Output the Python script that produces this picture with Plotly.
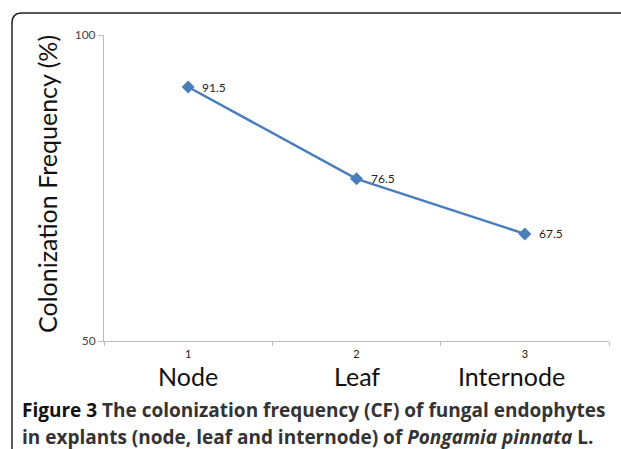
import plotly.graph_objects as go

categories = ["Node", "Leaf", "Internode"]
positions = [1, 2, 3]
cf_values = [91.5, 76.5, 67.5]
y_ticks = [50, 100]
y_title = "Colonization Frequency (%)"

W, H = 621, 449
px = lambda v: v / W
py = lambda v: 1 - v / H

fig = go.Figure()
fig.add_trace(go.Scatter(
    x=positions, y=cf_values, mode="lines+markers",
    line=dict(color="#4A7EBB", width=2.5),
    marker=dict(symbol="diamond", size=10, color="#4A7EBB"),
    cliponaxis=False, showlegend=False,
))

for p, v in zip(positions, cf_values):
    fig.add_annotation(x=p, y=v, xref="x", yref="y", text=f"{v}", showarrow=False,
                       xanchor="left", yanchor="middle", xshift=12,
                       font=dict(family="Lato", size=12, color="#222"))

fig.update_layout(
    width=W, height=H, margin=dict(l=0, r=0, t=0, b=0, autoexpand=False),
    paper_bgcolor="white", plot_bgcolor="white",
    xaxis=dict(domain=[px(104), px(609)], range=[0.5, 3.5], automargin=False,
               tickvals=positions, ticktext=[str(p) for p in positions],
               ticks="", showline=True, linecolor="#BBBBBB", linewidth=1,
               showgrid=False, zeroline=False, ticklabelstandoff=3,
               tickfont=dict(family="Lato", size=11, color="#222"),
               minor=dict(tickmode="array", tickvals=[0.5, 1.5, 2.5, 3.5],
                          ticks="outside", ticklen=4, tickcolor="#BBBBBB")),
    yaxis=dict(domain=[py(341), py(35)], range=[50, 100], automargin=False,
               tickvals=y_ticks, ticks="outside", ticklen=5, tickcolor="#BBBBBB",
               showline=True, linecolor="#BBBBBB", linewidth=1,
               showgrid=False, zeroline=False,
               tickfont=dict(family="Lato", size=12, color="#444")),
)

fig.add_annotation(x=px(47), y=py(184), xref="paper", yref="paper", text=y_title,
                   textangle=-90, showarrow=False, xanchor="center", yanchor="middle",
                   font=dict(family="Lato", size=25, color="#111"))

label_shift = [0, 0, -13]
for p, c, s in zip(positions, categories, label_shift):
    fig.add_annotation(x=p, y=py(376), xref="x", yref="paper", text=c, xshift=s,
                       showarrow=False, yanchor="middle",
                       font=dict(family="Lato", size=25, color="#111"))

fig.add_annotation(x=px(20), y=py(410), xref="paper", yref="paper", xanchor="left",
                   yanchor="middle", showarrow=False,
                   text="<b>Figure 3</b><b style='color:#333'> The colonization frequency (CF) of fungal endophytes</b>",
                   font=dict(family="Open Sans", size=19, color="#111"))
fig.add_annotation(x=px(20), y=py(437), xref="paper", yref="paper", xanchor="left",
                   yanchor="middle", showarrow=False,
                   text="<b>in explants (node, leaf and internode) of <i>Pongamia pinnata</i> L.</b>",
                   font=dict(family="Open Sans", size=19, color="#333"))

# rounded frame
x0, y0, r = 12, 13, 10
path = (f"M {px(x0)},{py(H+5)} L {px(x0)},{py(y0+r)} "
        f"Q {px(x0)},{py(y0)} {px(x0+r)},{py(y0)} L {px(W+5)},{py(y0)}")
fig.add_shape(type="path", path=path, xref="paper", yref="paper",
              line=dict(color="#222", width=1.5))

fig.write_html("out.html", config={"displayModeBar": False},
               post_script="document.body.style.margin='0';document.body.style.overflow='hidden';")
